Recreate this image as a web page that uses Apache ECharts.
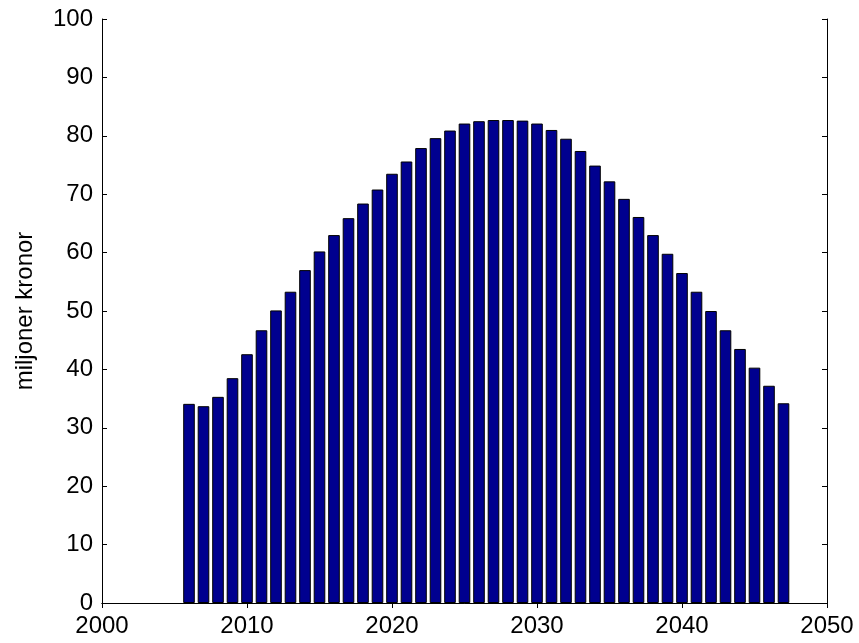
<!DOCTYPE html>
<html>
<head>
<meta charset="utf-8">
<script src="https://cdn.jsdelivr.net/npm/echarts@6/dist/echarts.min.js"></script>
<style>
  html, body { margin: 0; padding: 0; background: #fff; }
  #chart { width: 859px; height: 643px; }
</style>
</head>
<body>
<div id="chart"></div>
<script>
const years = [2006, 2007, 2008, 2009, 2010, 2011, 2012, 2013, 2014, 2015,
  2016, 2017, 2018, 2019, 2020, 2021, 2022, 2023, 2024, 2025,
  2026, 2027, 2028, 2029, 2030, 2031, 2032, 2033, 2034, 2035,
  2036, 2037, 2038, 2039, 2040, 2041, 2042, 2043, 2044, 2045,
  2046, 2047]
const values = [34.1, 33.7, 35.3, 38.5, 42.6, 46.7, 50.1, 53.3, 57.0, 60.2,
  63.0, 65.9, 68.4, 70.8, 73.5, 75.6, 77.9, 79.6, 80.9, 82.1,
  82.5, 82.7, 82.7, 82.6, 82.1, 81.0, 79.5, 77.4, 74.9, 72.2,
  69.2, 66.1, 63.0, 59.8, 56.5, 53.3, 50.0, 46.7, 43.5, 40.3,
  37.2, 34.2]
const yName = 'miljoner kronor'

const font = 'Liberation Sans, Arial, sans-serif'
const axisLine = { show: true, lineStyle: { color: '#000', width: 1 } }
const tick = { show: true, inside: true, length: 5, lineStyle: { color: '#000' } }

const chart = echarts.init(document.getElementById('chart'))

chart.setOption({
  animation: false,
  grid: { left: 102, right: 32, top: 19, bottom: 40 },
  xAxis: [
    {
      type: 'value',
      min: 2000,
      max: 2050,
      interval: 10,
      axisLine: axisLine,
      axisTick: tick,
      splitLine: { show: false },
      axisLabel: {
        color: '#000', fontSize: 24, fontFamily: font, margin: 11,
        formatter: v => String(v)
      }
    },
    {
      type: 'value',
      position: 'top',
      min: 2000,
      max: 2050,
      interval: 10,
      axisLine: axisLine,
      axisTick: tick,
      splitLine: { show: false },
      axisLabel: { show: false }
    }
  ],
  yAxis: [
    {
      type: 'value',
      min: 0,
      max: 100,
      interval: 10,
      name: yName,
      nameLocation: 'middle',
      nameGap: 65,
      nameTextStyle: { color: '#000', fontSize: 24, fontFamily: font },
      axisLine: axisLine,
      axisTick: tick,
      splitLine: { show: false },
      axisLabel: { color: '#000', fontSize: 24, fontFamily: font, margin: 9 }
    },
    {
      type: 'value',
      position: 'right',
      min: 0,
      max: 100,
      interval: 10,
      axisLine: axisLine,
      axisTick: tick,
      splitLine: { show: false },
      axisLabel: { show: false }
    }
  ],
  series: [
    {
      type: 'bar',
      xAxisIndex: 0,
      yAxisIndex: 0,
      barWidth: 11.6,
      itemStyle: { color: '#00008f', borderColor: '#000', borderWidth: 1 },
      data: years.map((y, i) => [y, values[i]])
    }
  ]
})
</script>
</body>
</html>
